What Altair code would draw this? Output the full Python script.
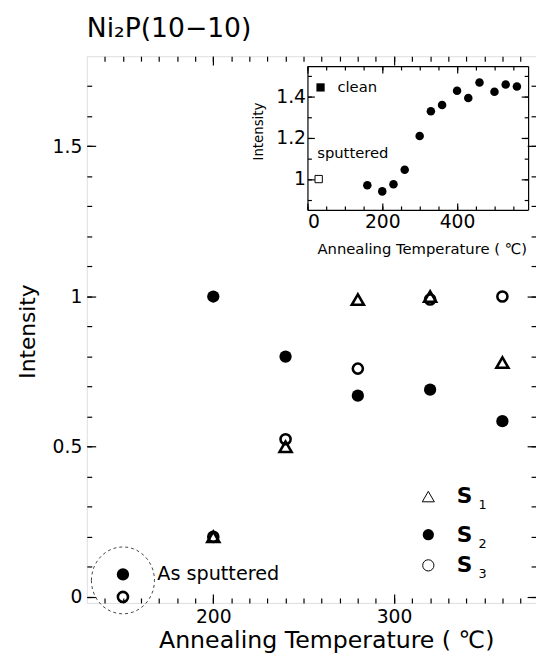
import altair as alt
import pandas as pd

# ---------------- data ----------------
temps = [200, 240, 280, 320, 360]
s1_vals = [0.20, 0.50, 0.99, 1.00, 0.78]
s2_vals = [1.00, 0.80, 0.67, 0.69, 0.585]
s3_vals = [0.20, 0.525, 0.76, 0.99, 1.00]
sputtered_temp = [150]
sputtered_s2 = [0.075]
sputtered_s3 = [0.0]

inset_temps = [160, 200, 230, 260, 300, 330, 360, 400, 430, 460, 500, 530, 560]
inset_vals = [0.97, 0.94, 0.975, 1.045, 1.21, 1.33, 1.36, 1.43, 1.395, 1.47, 1.425, 1.46, 1.45]
inset_sputtered_temp = [30]
inset_sputtered_val = [1.0]

legend_names = ["S", "S", "S"]
legend_subs = ["1", "2", "3"]

x_major = [200, 300]
x_minor = list(range(140, 380, 10))
y_major = [0, 0.5, 1, 1.5]
y_minor = [round(0.1 * i, 1) for i in range(0, 18)]
ix_major = [0, 200, 400]
ix_minor = list(range(0, 600, 50))
iy_major = [1.0, 1.2, 1.4]
iy_minor = [round(0.9 + 0.1 * i, 1) for i in range(0, 7)]

# ---------------- layout ----------------
W, H = 456, 555
FONT = "DejaVu Sans"
IX0, IX1 = 224, 448   # inset x range in plot pixels
IY0, IY1 = 156, 10    # inset y range (bottom, top)

xs = alt.Scale(domain=[130, 378.6], nice=False, zero=False)
ys = alt.Scale(domain=[-0.02, 1.8], nice=False, zero=False)
ixs = alt.Scale(domain=[0, 590], range=[IX0, IX1], nice=False, zero=False)
iys = alt.Scale(domain=[0.85, 1.55], range=[IY0, IY1], nice=False, zero=False)

s1_df = pd.DataFrame({"temp": temps, "val": s1_vals})
s2_df = pd.DataFrame({"temp": sputtered_temp + temps, "val": sputtered_s2 + s2_vals})
s3_df = pd.DataFrame({"temp": sputtered_temp + temps, "val": sputtered_s3 + s3_vals})
inset_df = pd.DataFrame({"temp": inset_temps, "val": inset_vals})
inset_sp_df = pd.DataFrame({"temp": inset_sputtered_temp, "val": inset_sputtered_val})

LEG_X, LEG_TX, LEG_SX = 319, 339, 349
LEG_Y = [0.334, 0.207, 0.105]
leg_df = pd.DataFrame({"name": legend_names, "sub": legend_subs,
                       "x": [LEG_X] * 3, "tx": [LEG_TX] * 3, "sx": [LEG_SX] * 3, "y": LEG_Y})


def tick_axis(orient, values, size, offset, domain=False):
    return alt.Axis(orient=orient, values=values, tickSize=size, offset=offset,
                    labels=False, domain=domain, domainColor="black", domainWidth=1.2,
                    grid=False, title=None, ticks=True, tickColor="black", tickWidth=1.2)


def carrier(df, xsc, ysc, xaxis, yaxis):
    return alt.Chart(df).mark_point(opacity=0).encode(
        x=alt.X("temp:Q", scale=xsc, axis=xaxis),
        y=alt.Y("val:Q", scale=ysc, axis=yaxis),
    )


def pts(df, mark, xsc, ysc):
    return mark.encode(
        x=alt.X("temp:Q", scale=xsc, axis=None),
        y=alt.Y("val:Q", scale=ysc, axis=None),
    )


# ---------------- main panel ----------------
main_label_axes = carrier(
    s2_df, xs, ys,
    alt.Axis(orient="bottom", values=x_major, ticks=False, tickSize=0, domain=False, grid=False,
             labelFont=FONT, labelFontSize=19, labelColor="black", labelPadding=5,
             title="Annealing Temperature ( ℃)", titleFont=FONT, titleFontSize=24,
             titleFontWeight="normal", titleColor="black", titleX=243, titleY=38,
             titleBaseline="middle", titleAlign="center"),
    alt.Axis(orient="left", values=y_major, ticks=False, tickSize=0, domain=False, grid=False,
             format="~g", labelFont=FONT, labelFontSize=19, labelColor="black", labelPadding=5,
             title="Intensity", titleFont=FONT, titleFontSize=22, titleFontWeight="normal",
             titleColor="black", titleX=-60, titleY=279, titleAngle=270,
             titleBaseline="middle", titleAlign="center"),
)
main_c1 = carrier(s2_df, xs, ys, tick_axis("top", x_minor, 5, -H), tick_axis("right", y_minor, 5, -W))
main_c2 = carrier(s2_df, xs, ys, tick_axis("top", x_major, 9, -H), tick_axis("right", y_major, 9, -W))
main_c3 = carrier(s2_df, xs, ys, tick_axis("bottom", x_minor, 5, -H), tick_axis("left", y_minor, 5, -W))
main_c4 = carrier(s2_df, xs, ys, tick_axis("bottom", x_major, 9, -H), tick_axis("left", y_major, 9, -W))

s1_layer = pts(s1_df, alt.Chart(s1_df).mark_point(shape="triangle-up", filled=False, size=150,
                                                    strokeWidth=2.6, color="black", opacity=1), xs, ys)
s3_layer = pts(s3_df, alt.Chart(s3_df).mark_point(shape="circle", filled=False, size=105,
                                                   strokeWidth=2.6, color="black", opacity=1), xs, ys)
s2_layer = pts(s2_df, alt.Chart(s2_df).mark_circle(size=155, color="black", opacity=1), xs, ys)

ellipse_df = pd.DataFrame({"temp": [150], "val": [0.055]})
ellipse = pts(ellipse_df, alt.Chart(ellipse_df).mark_point(
    shape="M -1 0 A 1 1.06 0 1 1 1 0 A 1 1.06 0 1 1 -1 0 Z", size=4096, filled=False,
    strokeDash=[3, 3], strokeWidth=1, color="#444", opacity=1), xs, ys)

as_sp_df = pd.DataFrame({"temp": [169], "val": [0.075], "t": ["As sputtered"]})
as_sp = alt.Chart(as_sp_df).mark_text(align="left", baseline="middle", font=FONT, fontSize=19.5,
                                      color="black").encode(
    x=alt.X("temp:Q", scale=xs, axis=None), y=alt.Y("val:Q", scale=ys, axis=None), text="t:N")

leg_base = alt.Chart(leg_df)
leg_tri = leg_base.transform_filter("datum.sub == '1'").mark_point(
    shape="triangle-up", filled=False, size=150, strokeWidth=1, color="black", opacity=1).encode(
    x=alt.X("x:Q", scale=xs, axis=None), y=alt.Y("y:Q", scale=ys, axis=None))
leg_fill = leg_base.transform_filter("datum.sub == '2'").mark_circle(
    size=130, color="black", opacity=1).encode(
    x=alt.X("x:Q", scale=xs, axis=None), y=alt.Y("y:Q", scale=ys, axis=None))
leg_open = leg_base.transform_filter("datum.sub == '3'").mark_point(
    shape="circle", filled=False, size=130, strokeWidth=1, color="black", opacity=1).encode(
    x=alt.X("x:Q", scale=xs, axis=None), y=alt.Y("y:Q", scale=ys, axis=None))
leg_s = leg_base.mark_text(align="center", baseline="middle", font=FONT, fontSize=22,
                           fontWeight="bold", color="black").encode(
    x=alt.X("tx:Q", scale=xs, axis=None), y=alt.Y("y:Q", scale=ys, axis=None), text="name:N")
leg_sub = leg_base.mark_text(align="center", baseline="middle", font=FONT, fontSize=13,
                             dy=9, color="black").encode(
    x=alt.X("sx:Q", scale=xs, axis=None), y=alt.Y("y:Q", scale=ys, axis=None), text="sub:N")

title_df = pd.DataFrame({"t": ["Ni₂P(10−10)"]})
title = alt.Chart(title_df).mark_text(align="left", baseline="middle", font=FONT, fontSize=27,
                                      color="black").encode(
    x=alt.value(0), y=alt.value(-28), text="t:N")

main = alt.layer(main_label_axes, main_c1, main_c2, main_c3, main_c4,
                 ellipse, s1_layer, s3_layer, s2_layer, as_sp,
                 leg_tri, leg_fill, leg_open, leg_s, leg_sub, title).resolve_axis(
    x="independent", y="independent")

# ---------------- inset ----------------
inset_label_axes = carrier(
    inset_df, ixs, iys,
    alt.Axis(orient="bottom", values=ix_major, ticks=False, tickSize=0, offset=IY0 - H,
             domain=True, domainColor="black", domainWidth=1.2, grid=False,
             labelFont=FONT, labelFontSize=19, labelColor="black", labelPadding=3,
             title="Annealing Temperature (  ℃)", titleFont=FONT, titleFontSize=15,
             titleFontWeight="normal", titleColor="black", titleX=340, titleY=39,
             titleBaseline="middle", titleAlign="center"),
    alt.Axis(orient="left", values=iy_major, ticks=False, tickSize=0, offset=-IX0,
             domain=True, domainColor="black", domainWidth=1.2, grid=False,
             format="~g", labelFont=FONT, labelFontSize=19, labelColor="black", labelPadding=2,
             title="Intensity", titleFont=FONT, titleFontSize=13.5, titleFontWeight="normal",
             titleColor="black", titleX=-50, titleY=76, titleAngle=270,
             titleBaseline="middle", titleAlign="center"),
)
inset_c1 = carrier(inset_df, ixs, iys, tick_axis("top", ix_minor, 4, -IY0),
                   tick_axis("right", iy_minor, 4, IX0 - W))
inset_c2 = carrier(inset_df, ixs, iys, tick_axis("top", ix_major, 7, -IY0),
                   tick_axis("right", iy_major, 7, IX0 - W))
inset_c3 = carrier(inset_df, ixs, iys, tick_axis("bottom", ix_minor, 4, IY1 - H, domain=True),
                   tick_axis("left", iy_minor, 4, -IX1, domain=True))
inset_c4 = carrier(inset_df, ixs, iys, tick_axis("bottom", ix_major, 7, IY1 - H),
                   tick_axis("left", iy_major, 7, -IX1))

inset_pts = pts(inset_df, alt.Chart(inset_df).mark_circle(size=75, color="black", opacity=1), ixs, iys)
inset_sp = pts(inset_sp_df, alt.Chart(inset_sp_df).mark_point(shape="square", filled=False, size=55,
                                                              strokeWidth=1, color="black", opacity=1),
               ixs, iys)

inset_leg_df = pd.DataFrame({"temp": [35], "val": [1.446]})
inset_leg_sq = pts(inset_leg_df, alt.Chart(inset_leg_df).mark_square(size=70, color="black", opacity=1),
                   ixs, iys)
inset_txt_df = pd.DataFrame({"temp": [80, 26], "val": [1.446, 1.127], "t": ["clean", "sputtered"]})
inset_txt = alt.Chart(inset_txt_df).mark_text(align="left", baseline="middle", font=FONT, fontSize=15,
                                              color="black").encode(
    x=alt.X("temp:Q", scale=ixs, axis=None), y=alt.Y("val:Q", scale=iys, axis=None), text="t:N")

inset = alt.layer(inset_label_axes, inset_c1, inset_c2, inset_c3, inset_c4,
                  inset_pts, inset_sp, inset_leg_sq, inset_txt).resolve_axis(
    x="independent", y="independent")

chart = alt.layer(main, inset).resolve_scale(
    x="independent", y="independent").resolve_axis(
    x="independent", y="independent").properties(
    width=W, height=H,
    autosize=alt.AutoSizeParams(type="none"),
    padding={"left": 80, "top": 44, "right": 0, "bottom": 53},
).configure_view(stroke="black", strokeWidth=1.2).configure(font=FONT)

chart.save("out.html", embed_options={"renderer": "svg", "actions": False})
